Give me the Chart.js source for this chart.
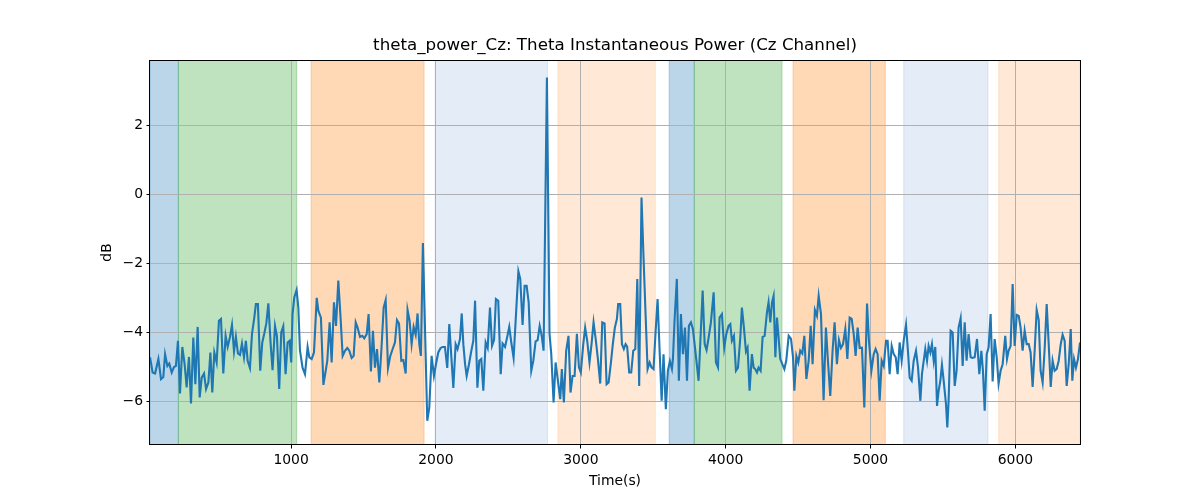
<!DOCTYPE html>
<html><head><meta charset="utf-8">
<script src="https://cdn.jsdelivr.net/npm/chart.js@4/dist/chart.umd.min.js"></script>
<style>html,body{margin:0;padding:0;background:#fff}#wrap{width:1200px;height:500px}</style>
</head><body><div id="wrap"><canvas id="c" width="1200" height="500"></canvas></div>
<script>
// ---- data ----
const times = [
26,44,61,84,102,118,130,146,159,176,192,205,219,233,249,265,279,295,309,325,339,355,369,383,399,413,429,443,456,470,486,502,516,532,548,562,578,592,606,619,633,647,661,675,688,700,716,730,746,757,771,787,801,815,829,843,859,872,889,902,918,932,946,962,976,990,1001,1010,1022,1038,1050,1061,1079,1096,
1114,1126,1142,1158,1177,1188,1206,1223,1239,1250,1266,1280,1296,1310,1326,1342,1356,1372,1388,1402,1418,1432,1446,1459,1476,1492,1505,1522,1535,1551,1565,1579,1593,1609,1623,1639,1653,1669,1685,1701,1717,1731,1745,1761,1775,1791,1804,1818,1832,1846,1860,1873,1885,1896,1910,1940,1954,1970,1986,2000,2016,2032,2046,2062,2078,2092,2108,2120,2136,2149,2166,
2178,2189,2201,2212,2228,2242,2258,2270,2286,2299,2313,2327,2343,2357,2373,2387,2401,2414,2430,2447,2460,2477,2490,2506,2520,2536,2552,2569,2582,2598,2612,2626,2640,2658,2672,2688,2702,2716,2730,2743,2766,
2784,2796,2812,2826,2842,2858,2869,2883,2899,2915,2929,2943,2957,2973,2987,3000,3017,3030,3044,3060,3074,3088,3104,3118,3134,3148,3164,3178,3192,3208,3221,3235,3249,3258,3272,3284,3297,3309,3320,3334,3348,3362,3376,3390,3403,3419,3433,3447,3461,3475,3488,3502,3516,3530,3544,3558,3571,3587,3601,3615,3629,3636,3647,3663,3677,3691,3705,3719,3733,3746,3760,3774,3790,3813,3841,3855,3868,3882,3898,3917,3933,3947,
3958,3974,3990,4004,4020,4032,4043,4057,4071,4085,4101,4112,4126,4140,4151,4165,4181,4193,4204,4216,4227,4241,4255,4269,4285,4296,4308,
4320,4331,4343,4354,4366,4377,4391,4405,4418,4435,4451,4465,4474,4488,4501,4515,4529,4543,4557,4573,4587,4600,4616,4630,4642,4658,4676,4692,4706,4722,4738,4752,4768,4782,4796,4810,4826,4840,4856,4870,4884,4897,4911,4925,4941,4957,4976,4989,5006,5022,5035,5049,5063,5077,5091,5107,5118,5132,5146,5160,5174,5187,5201,5215,5229,5245,5259,5270,5284,5298,5314,5328,5344,5355,
5378,5390,5401,5413,5424,5436,5447,5459,5470,5482,5493,5505,5521,5530,5539,5553,5567,5581,5594,5608,5622,5636,5650,5663,5677,5691,5705,5719,5735,5751,5765,5776,5788,5802,5815,5829,5843,5857,5871,5884,5898,5912,5930,5942,5953,5967,5981,5995,6009,6023,6036,6050,6064,6078,6092,6105,6119,6133,6147,6161,6174,6188,6202,6216,6230,6244,6257,6271,6285,6299,6313,6326,6340,6354,6368,6382,6393,6405,6418,6432,6446
];
const thetaPowerDb = [
-4.71,-5.15,-5.18,-4.76,-5.34,-5.28,-4.62,-4.96,-4.89,-5.15,-4.99,-4.96,-4.23,-5.76,-4.41,-4.91,-5.58,-4.70,-6.05,-4.14,-5.49,-3.83,-5.87,-5.30,-5.18,-5.63,-5.44,-4.57,-5.73,-4.57,-4.86,-3.65,-3.60,-5.18,-4.09,-4.41,-4.12,-3.77,-4.54,-4.12,-4.60,-4.64,-4.31,-4.71,-4.23,-4.81,-5.02,-4.04,-3.56,-3.17,-3.17,-5.10,-4.28,-4.02,-3.73,-3.15,-4.33,-5.08,-3.80,-4.09,-5.63,-3.99,-3.81,-5.20,-4.28,-4.23,-4.86,-3.46,-2.98,-2.76,-3.27,-4.50,-5.01,-5.20,
-4.41,-4.71,-4.76,-4.57,-2.99,-3.36,-3.56,-5.51,-5.10,-4.81,-3.70,-4.86,-3.12,-3.80,-2.49,-3.60,-4.67,-4.52,-4.44,-4.52,-4.73,-4.67,-3.70,-3.85,-4.12,-4.09,-4.16,-4.04,-3.46,-5.12,-3.94,-5.01,-4.47,-5.44,-4.52,-3.27,-3.05,-5.02,-4.67,-4.47,-4.28,-3.63,-3.73,-4.81,-4.79,-5.18,-3.34,-3.65,-4.33,-3.83,-4.06,-3.44,-4.33,-4.67,-1.40,-6.55,-6.17,-4.67,-5.25,-4.91,-4.57,-4.44,-4.41,-4.41,-5.02,-3.75,-4.81,-5.60,-4.33,-4.47,-4.18,
-3.44,-4.33,-4.91,-5.25,-4.91,-4.57,-4.23,-3.07,-5.59,-4.81,-4.76,-5.68,-4.28,-4.44,-3.27,-4.38,-4.21,-3.02,-3.07,-5.20,-4.31,-4.41,-4.16,-3.83,-4.28,-4.73,-3.51,-2.22,-2.44,-3.77,-2.64,-2.64,-3.12,-5.10,-4.81,-4.25,-4.21,-3.80,-4.09,-4.52,3.39,
-4.03,-4.62,-6.02,-4.86,-5.39,-5.92,-5.05,-6.02,-4.52,-4.09,-5.73,-5.25,-5.25,-4.03,-5.00,-5.15,-4.33,-3.85,-4.23,-4.86,-4.33,-3.70,-4.23,-4.76,-5.47,-3.70,-3.73,-5.49,-5.44,-4.86,-4.33,-3.85,-3.60,-3.17,-3.17,-4.33,-4.47,-4.33,-4.40,-5.15,-5.15,-4.52,-4.47,-2.44,-5.54,-0.08,-1.82,-3.46,-5.05,-4.86,-5.00,-5.05,-3.99,-3.02,-4.52,-5.97,-4.62,-6.21,-5.10,-4.82,-5.05,-4.75,-3.65,-2.44,-5.39,-3.46,-4.62,-3.85,-5.39,-3.80,-3.70,-3.90,-4.50,-5.39,-2.78,-4.33,-4.50,-4.15,-3.70,-2.83,-4.86,-5.00,
-3.56,-3.46,-4.44,-4.04,-3.80,-3.75,-4.23,-4.09,-5.10,-5.01,-4.14,-3.27,-3.85,-4.54,-4.43,-5.68,-4.62,-5.01,-5.05,-5.15,-5.01,-5.10,-4.12,-4.09,-3.41,-3.12,-3.70,
-3.12,-2.93,-4.71,-3.56,-4.18,-4.76,-4.91,-5.05,-4.81,-4.09,-4.18,-4.71,-5.68,-4.67,-4.86,-4.52,-4.60,-4.09,-5.34,-4.81,-3.80,-4.91,-3.34,-3.51,-2.93,-3.46,-5.95,-3.85,-4.81,-5.83,-4.52,-3.70,-4.91,-4.21,-4.44,-4.33,-3.89,-4.76,-3.56,-3.60,-4.04,-4.67,-3.85,-4.44,-4.43,-6.16,-3.15,-4.23,-5.10,-4.62,-4.47,-4.62,-5.97,-4.81,-4.96,-4.23,-4.23,-5.20,-4.38,-4.62,-4.71,-5.20,-4.28,-4.81,-4.23,-3.77,-4.57,-5.30,-5.39,-4.81,-4.52,-5.01,-5.97,-5.20,
-4.47,-4.81,-4.38,-4.57,-4.33,-4.81,-4.41,-6.12,-5.68,-5.39,-4.93,-5.39,-6.07,-6.74,-5.97,-3.94,-3.99,-5.54,-5.10,-3.85,-3.58,-4.96,-3.70,-4.81,-4.04,-4.71,-4.73,-4.71,-4.18,-5.20,-4.52,-5.10,-6.26,-4.62,-4.43,-3.46,-5.41,-4.18,-4.71,-5.47,-5.10,-4.91,-4.09,-4.76,-4.52,-4.38,-2.59,-4.38,-3.48,-3.51,-3.85,-4.52,-3.94,-4.33,-4.33,-4.57,-5.57,-4.52,-3.34,-3.63,-5.10,-5.44,-4.47,-3.17,-4.33,-5.57,-4.81,-5.10,-5.05,-4.81,-4.33,-4.06,-4.23,-5.54,-4.91,-3.89,-5.39,-4.76,-5.01,-4.76,-4.28
];
const xTickValues = [1000, 2000, 3000, 4000, 5000, 6000];
const yTickValues = [-6, -4, -2, 0, 2];
const spanStart = [26, 222, 1138, 1994, 2842, 3610, 3783, 4465, 5229, 5885];
const spanEnd   = [222, 1039, 1918, 2770, 3514, 3783, 4389, 5102, 5811, 6446];
const spanKind  = ['blue', 'green', 'orange', 'lightblue', 'lightorange', 'blue', 'green', 'orange', 'lightblue', 'lightorange'];
const chartTitle = 'theta_power_Cz: Theta Instantaneous Power (Cz Channel)';

// ---- styles ----
const spanColors = {
  blue: 'rgba(31,119,180,0.3)',
  green: 'rgba(44,160,44,0.3)',
  orange: 'rgba(255,127,14,0.3)',
  lightblue: 'rgba(31,100,190,0.12)',
  lightorange: 'rgba(255,127,14,0.17)'
};
const FONT = 'DejaVu Sans';
Chart.defaults.font.family = FONT;
Chart.defaults.color = '#000';

const fmt = v => (v < 0 ? '\u2212' + Math.abs(v) : String(v));

const spanPlugin = {
  id: 'spans',
  beforeDraw(chart) {
    const {ctx, chartArea: a, scales: {x}} = chart;
    ctx.save();
    ctx.beginPath(); ctx.rect(a.left, a.top, a.right - a.left, a.bottom - a.top); ctx.clip();
    for (let i = 0; i < spanStart.length; i++) {
      const x0 = x.getPixelForValue(spanStart[i]);
      const x1 = x.getPixelForValue(spanEnd[i]);
      ctx.fillStyle = spanColors[spanKind[i]];
      ctx.fillRect(x0, a.top, x1 - x0, a.bottom - a.top);
      ctx.strokeStyle = spanColors[spanKind[i]];
      ctx.lineWidth = 1;
      ctx.strokeRect(x0, a.top, x1 - x0, a.bottom - a.top);
    }
    ctx.restore();
    // title centred over the plot area
    ctx.save();
    ctx.font = '16.7px "' + FONT + '"';
    ctx.fillStyle = '#000';
    ctx.textAlign = 'center';
    ctx.textBaseline = 'middle';
    ctx.fillText(chartTitle, (a.left + a.right) / 2, 46);
    ctx.restore();
  },
  afterDatasetsDraw(chart) {
    const {ctx, chartArea: a} = chart;
    ctx.save();
    ctx.strokeStyle = '#000';
    ctx.lineWidth = 1;
    ctx.strokeRect(Math.round(a.left) - 0.5, Math.round(a.top) + 0.5, Math.round(a.right - a.left) + 1, Math.round(a.bottom - a.top) - 1);
    ctx.restore();
  }
};

new Chart(document.getElementById('c'), {
  type: 'line',
  data: {
    datasets: [{
      data: times.map((t, i) => ({x: t, y: thetaPowerDb[i]})),
      borderColor: '#1f77b4',
      borderWidth: 2.1,
      pointRadius: 0,
      tension: 0,
      fill: false
    }]
  },
  options: {
    responsive: false,
    animation: false,
    devicePixelRatio: 1,
    layout: {padding: {left: 0, right: 120, top: 60, bottom: 0}},
    plugins: {
      legend: {display: false},
      tooltip: {enabled: false},
      title: {display: false}
    },
    scales: {
      x: {
        type: 'linear',
        min: 26, max: 6446,
        afterBuildTicks: s => { s.ticks = xTickValues.map(v => ({value: v})); },
        afterFit: s => { s.height = 55; },
        grid: {color: '#b0b0b0', lineWidth: 1, tickColor: '#000', tickLength: 3.5, drawTicks: true},
        border: {display: false},
        ticks: {font: {size: 13.9}, padding: 3.5, maxRotation: 0, callback: v => fmt(v)},
        title: {display: true, text: 'Time(s)', font: {size: 13.9}, padding: {top: 0, bottom: 10.7}}
      },
      y: {
        type: 'linear',
        min: -7.25, max: 3.9,
        afterBuildTicks: s => { s.ticks = yTickValues.map(v => ({value: v})); },
        afterFit: s => { s.width = 150; },
        grid: {color: '#b0b0b0', lineWidth: 1, tickColor: '#000', tickLength: 3.5, drawTicks: true},
        border: {display: false},
        ticks: {font: {size: 13.9}, padding: 3.5, callback: v => fmt(v)},
        title: {display: true, text: 'dB', font: {size: 13.9}, padding: {top: 98.7, bottom: 0}}
      }
    }
  },
  plugins: [spanPlugin]
});
</script>
</body></html>
